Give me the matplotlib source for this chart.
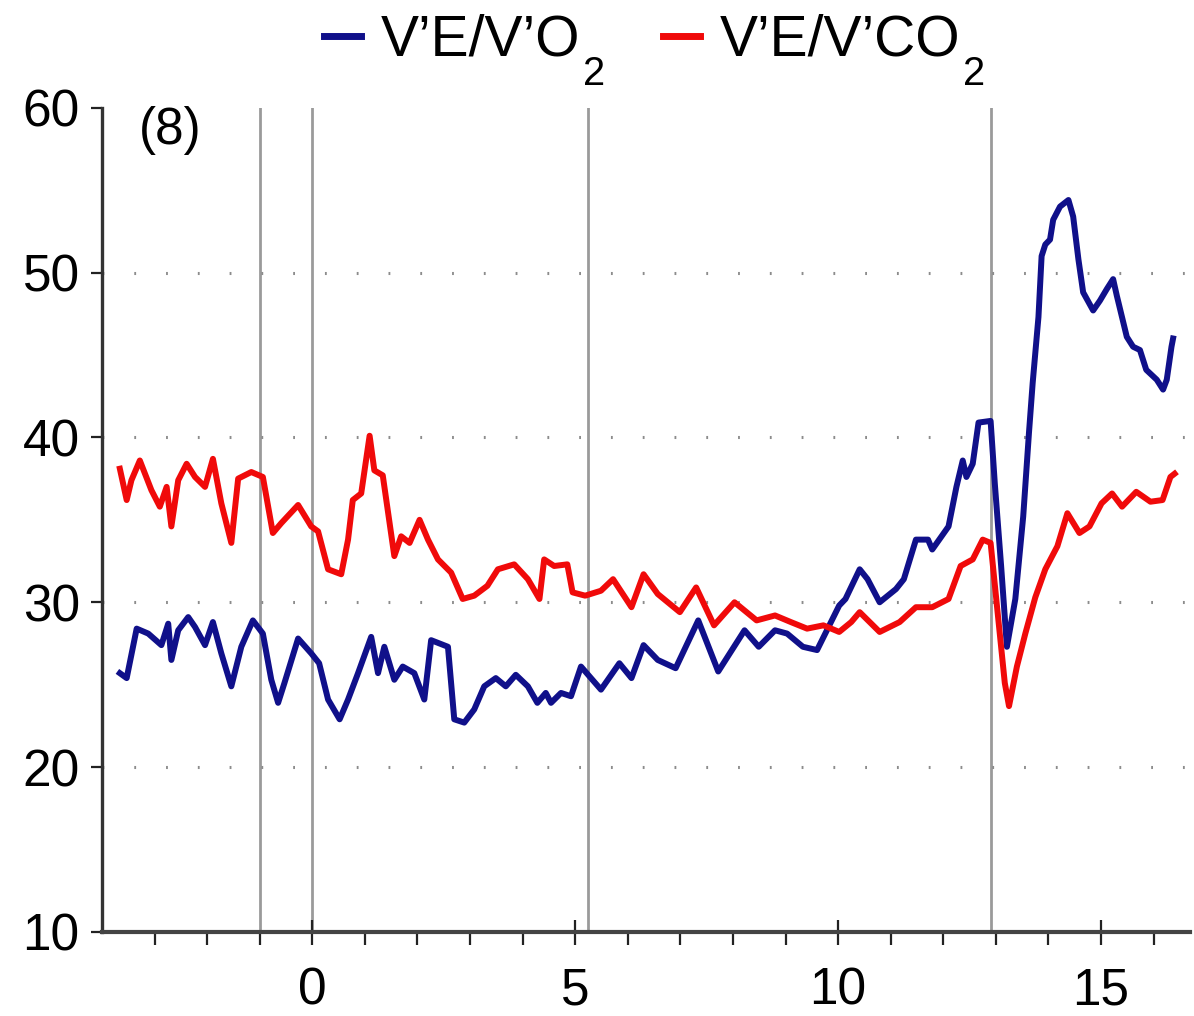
import numpy as np
import matplotlib.pyplot as plt
from matplotlib.font_manager import FontProperties

plt.rcParams['font.family'] = ['Liberation Sans', 'DejaVu Sans']

# V'E/V'O2 trace (time in min, ratio)
t_o2 = [-3.66, -3.53, -3.34, -3.12, -2.87, -2.74, -2.68, -2.55, -2.36, -2.23, -2.04, -1.89,
        -1.73, -1.54, -1.35, -1.13, -0.94, -0.78, -0.65, -0.53, -0.27, -0.02, 0.13, 0.30,
        0.52, 0.68, 0.87, 1.12, 1.25, 1.37, 1.56, 1.72, 1.94, 2.13, 2.26, 2.58, 2.70, 2.89,
        3.08, 3.27, 3.49, 3.68, 3.87, 4.10, 4.28, 4.44, 4.54, 4.73, 4.92, 5.11, 5.49, 5.84,
        6.07, 6.30, 6.57, 6.91, 7.34, 7.72, 8.22, 8.49, 8.80, 9.03, 9.33, 9.60, 10.02, 10.14,
        10.41, 10.56, 10.79, 11.10, 11.25, 11.48, 11.71, 11.79, 12.10, 12.25, 12.37, 12.44,
        12.56, 12.67, 12.90, 12.98, 13.10, 13.21, 13.37, 13.52, 13.63, 13.70, 13.81, 13.87,
        13.94, 14.03, 14.09, 14.22, 14.38, 14.47, 14.57, 14.66, 14.85, 14.98, 15.11, 15.23,
        15.30, 15.49, 15.61, 15.74, 15.86, 16.06, 16.18, 16.25, 16.34, 16.37]
ve_o2 = [25.7, 25.4, 28.4, 28.1, 27.4, 28.7, 26.5, 28.3, 29.1, 28.5, 27.4, 28.8,
         26.9, 24.9, 27.3, 28.9, 28.1, 25.3, 23.9, 25.1, 27.8, 26.9, 26.3, 24.1,
         22.9, 24.1, 25.7, 27.9, 25.7, 27.3, 25.3, 26.1, 25.7, 24.1, 27.7, 27.3, 22.9, 22.7,
         23.5, 24.9, 25.4, 24.9, 25.6, 24.9, 23.9, 24.5, 23.9, 24.5, 24.3, 26.1, 24.7, 26.3,
         25.4, 27.4, 26.5, 26.0, 28.9, 25.8, 28.3, 27.3, 28.3, 28.1, 27.3, 27.1, 29.8, 30.2,
         32.0, 31.4, 30.0, 30.8, 31.4, 33.8, 33.8, 33.2, 34.6, 37.0, 38.6, 37.6,
         38.4, 40.9, 41.0, 37.2, 32.2, 27.3, 30.2, 35.2, 40.3, 43.3, 47.3, 51.0,
         51.7, 52.0, 53.2, 54.0, 54.4, 53.4, 50.8, 48.8, 47.7, 48.3, 49.0, 49.6,
         48.6, 46.1, 45.5, 45.3, 44.1, 43.5, 42.9, 43.5, 45.5, 46.0]

# V'E/V'CO2 trace
t_co2 = [-3.66, -3.53, -3.44, -3.28, -3.06, -2.90, -2.77, -2.68, -2.55, -2.39, -2.23, -2.04,
         -1.89, -1.73, -1.54, -1.41, -1.16, -0.94, -0.75, -0.59, -0.27, -0.02, 0.11, 0.30,
         0.55, 0.68, 0.77, 0.93, 1.09, 1.18, 1.34, 1.56, 1.69, 1.85, 2.04, 2.20, 2.39, 2.64,
         2.86, 3.08, 3.33, 3.53, 3.84, 4.10, 4.32, 4.41, 4.60, 4.85, 4.95, 5.19, 5.49, 5.72,
         6.07, 6.30, 6.57, 6.99, 7.30, 7.64, 8.03, 8.45, 8.80, 9.10, 9.41, 9.72, 10.02, 10.25,
         10.41, 10.79, 11.17, 11.48, 11.79, 12.10, 12.33, 12.56, 12.75, 12.90, 13.02, 13.17,
         13.25, 13.40, 13.56, 13.75, 13.94, 14.17, 14.36, 14.59, 14.78, 15.01, 15.21, 15.40,
         15.67, 15.94, 16.17, 16.32, 16.40]
ve_co2 = [38.1, 36.2, 37.4, 38.6, 36.8, 35.8, 37.0, 34.6, 37.4, 38.4, 37.6, 37.0,
          38.7, 36.0, 33.6, 37.5, 37.9, 37.6, 34.2, 34.8, 35.9, 34.6, 34.3, 32.0,
          31.7, 33.8, 36.2, 36.6, 40.1, 38.0, 37.7, 32.8, 34.0, 33.6, 35.0, 33.8, 32.6, 31.8,
          30.2, 30.4, 31.0, 32.0, 32.3, 31.4, 30.2, 32.6, 32.2, 32.3, 30.6, 30.4, 30.7, 31.4,
          29.7, 31.7, 30.5, 29.4, 30.9, 28.6, 30.0, 28.9, 29.2, 28.8, 28.4, 28.6, 28.2, 28.8,
          29.4, 28.2, 28.8, 29.7, 29.7, 30.2, 32.2, 32.6, 33.8, 33.6, 29.8, 25.1,
          23.7, 26.1, 28.1, 30.3, 32.0, 33.4, 35.4, 34.2, 34.6, 36.0, 36.6, 35.8,
          36.7, 36.1, 36.2, 37.6, 37.8]

phase_marks = [-1.0, 0.0, 5.25, 12.9]
grid_levels = [20, 30, 40, 50]
labels = ['V’E/V’O', 'V’E/V’CO']  # the subscript 2 is added after layout

fig = plt.figure(figsize=(11.94, 10.16), dpi=100)
ax = fig.add_axes([0.0854, 0.0827, 0.9116, 0.8113])

for xv in phase_marks:
    ax.axvline(xv, color='#9a9a9a', lw=2.0, zorder=1)
for yv in grid_levels:
    ax.axhline(yv, color='#8c8c8c', lw=2.2, ls=(0, (0.6, 9.8)), zorder=1)

ax.plot(t_o2, ve_o2, color='#10108a', lw=4.3, label=labels[0], zorder=3)
ax.plot(t_co2, ve_co2, color='#f00a0a', lw=4.3, label=labels[1], zorder=4)

ax.set_xlim(-4.0, 16.7)
ax.set_ylim(10, 60)
ax.set_xticks([0, 5, 10, 15])
ax.set_xticks(np.arange(-3, 17, 1), minor=True)
ax.set_yticks([10, 20, 30, 40, 50, 60])

for s in ['top', 'right']:
    ax.spines[s].set_visible(False)
ax.spines['left'].set_color('#333333')
ax.spines['left'].set_linewidth(2.4)
ax.spines['bottom'].set_color('#444444')
ax.spines['bottom'].set_linewidth(3.0)

ax.tick_params(axis='x', which='major', direction='inout', length=18, width=1.6,
               labelsize=37, pad=16, color='#222222')
ax.tick_params(axis='x', which='minor', direction='out', length=9, width=1.6, color='#222222')
ax.tick_params(axis='y', which='major', direction='out', length=8, width=1.6,
               labelsize=37, pad=8, color='#222222')

ax.text(-3.3, 58.6, '(8)', fontsize=37, va='center', ha='left')

leg_size = 41
leg = fig.legend(loc='upper center', bbox_to_anchor=(0.538, 1.037), ncol=2, frameon=False,
                 fontsize=leg_size, handlelength=0.65, handletextpad=0.35, columnspacing=1.45)
for h in leg.legend_handles:
    h.set_linewidth(5)

# subscripts sit fully below the baseline of each legend label
fig.canvas.draw()
renderer = fig.canvas.get_renderer()
fp = FontProperties(family='Liberation Sans', size=leg_size)
_, _, lp_d = renderer.get_text_width_height_descent('lp', fp, ismath=False)
inv = fig.transFigure.inverted()
for txt in leg.get_texts():
    bb = txt.get_window_extent(renderer)
    base = bb.y0 + lp_d
    x_f, y_f = inv.transform((bb.x1 + 2, base + 1))
    fig.text(x_f, y_f, '2', fontsize=leg_size * 0.7, ha='left', va='top')

fig.savefig('out.png', dpi=100)
